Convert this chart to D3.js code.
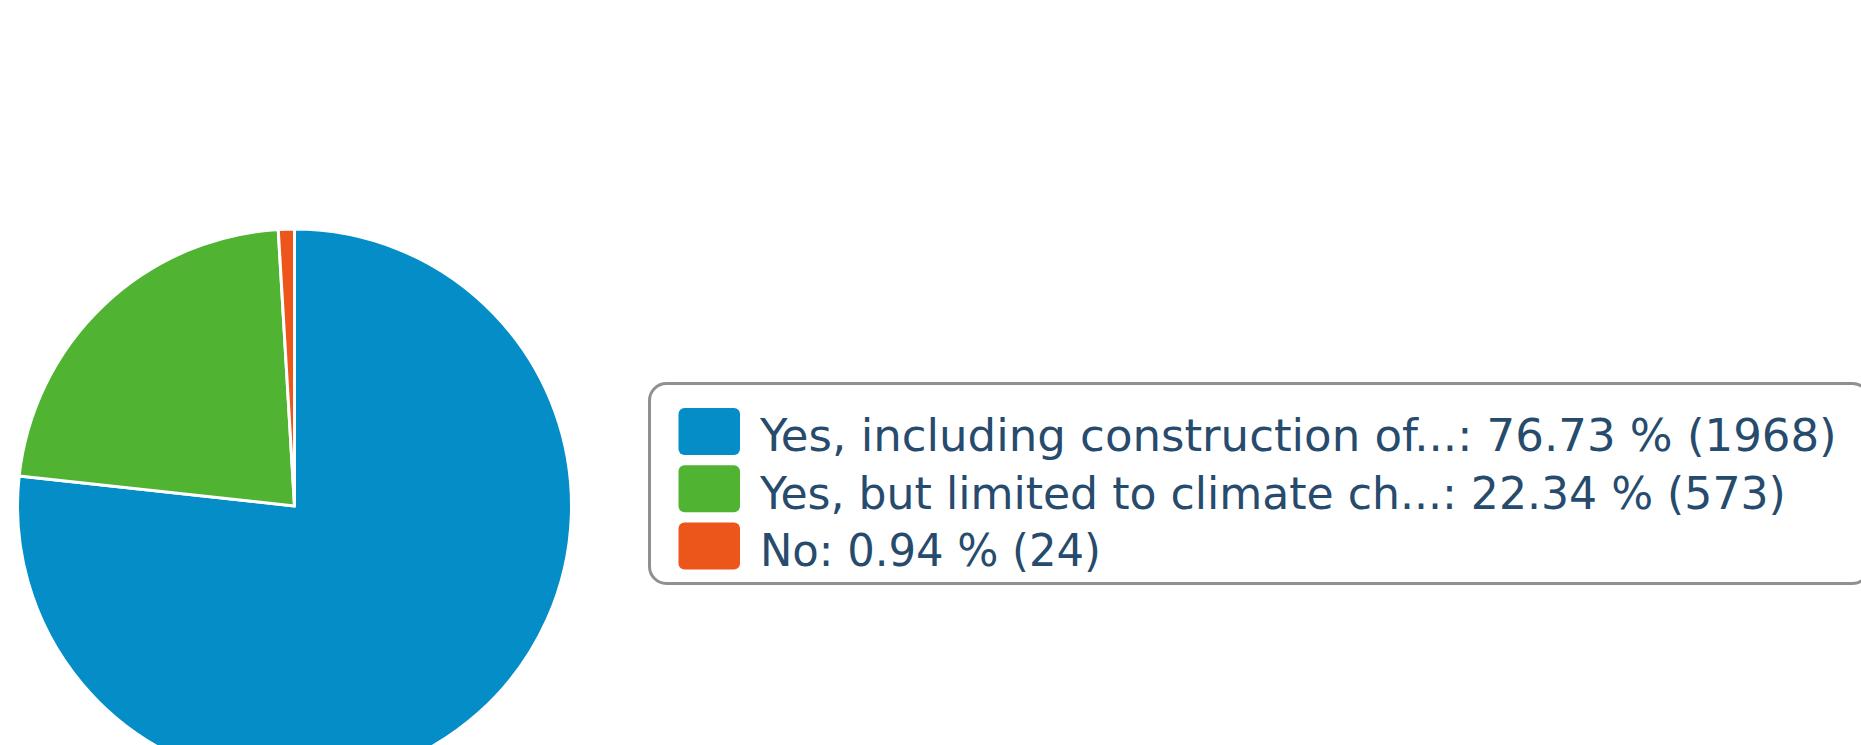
<!DOCTYPE html>
<html>
<head>
<meta charset="utf-8">
<script src="https://cdn.jsdelivr.net/npm/d3@7"></script>
<style>
  html, body { margin: 0; padding: 0; background: #fff; }
  svg { display: block; }
</style>
</head>
<body>
<div id="chart"></div>
<script>
// Veriler
const labels = [
    "Yes, including construction of...",
    "Yes, but limited to climate ch...",
    "No"
];
const counts = [1968, 573, 24];
const percents = ["76.73", "22.34", "0.94"];
const colors = ["#058DC7", "#50B432", "#ED561B"];

const width = 1861, height = 745;

const svg = d3.select("#chart")
    .append("svg")
    .attr("width", width)
    .attr("height", height);

// Pasta
const cx = 294.5, cy = 506, radius = 277;

const pie = d3.pie().sort(null).value(d => d)(counts);
const arc = d3.arc().innerRadius(0).outerRadius(radius);

svg.append("g")
    .attr("transform", `translate(${cx},${cy})`)
    .selectAll("path")
    .data(pie)
    .enter()
    .append("path")
    .attr("d", arc)
    .attr("fill", (d, i) => colors[i])
    .attr("stroke", "#fff")
    .attr("stroke-width", 3)
    .attr("stroke-linejoin", "round");

// Lejant
const legend = svg.append("g");

legend.append("rect")
    .attr("x", 649.5)
    .attr("y", 383.5)
    .attr("width", 1220)
    .attr("height", 200)
    .attr("rx", 17)
    .attr("fill", "#fff")
    .attr("stroke", "#909090")
    .attr("stroke-width", 3);

const rowY = d3.scaleBand()
    .domain(labels)
    .range([408, 570])
    .paddingInner(0.17)
    .paddingOuter(0);

legend.selectAll(".swatch")
    .data(labels)
    .enter()
    .append("rect")
    .attr("class", "swatch")
    .attr("x", 678.5)
    .attr("y", d => rowY(d))
    .attr("width", 61.5)
    .attr("height", 47)
    .attr("rx", 6)
    .attr("fill", (d, i) => colors[i]);

// Metin satırları; her satırın sağ ucu resimdeki yere oturtuluyor
const textX = 760;
const lineEnds = [1837, 1786, 1101];

legend.selectAll(".item")
    .data(labels)
    .enter()
    .append("g")
    .attr("class", "item")
    .append("text")
    .attr("x", 0)
    .attr("y", d => rowY(d) + 43.5)
    .style("font-family", "'DejaVu Sans Condensed', 'DejaVu Sans', sans-serif")
    .style("font-size", "45px")
    .style("fill", "#274b6d")
    .text((d, i) => `${d}: ${percents[i]} % (${counts[i]})`)
    .each(function (d, i) {
        const w0 = this.getComputedTextLength();
        const sx = (lineEnds[i] - textX) / w0;
        d3.select(this.parentNode).attr("transform", `translate(${textX},0) scale(${sx},1)`);
    });
</script>
</body>
</html>
